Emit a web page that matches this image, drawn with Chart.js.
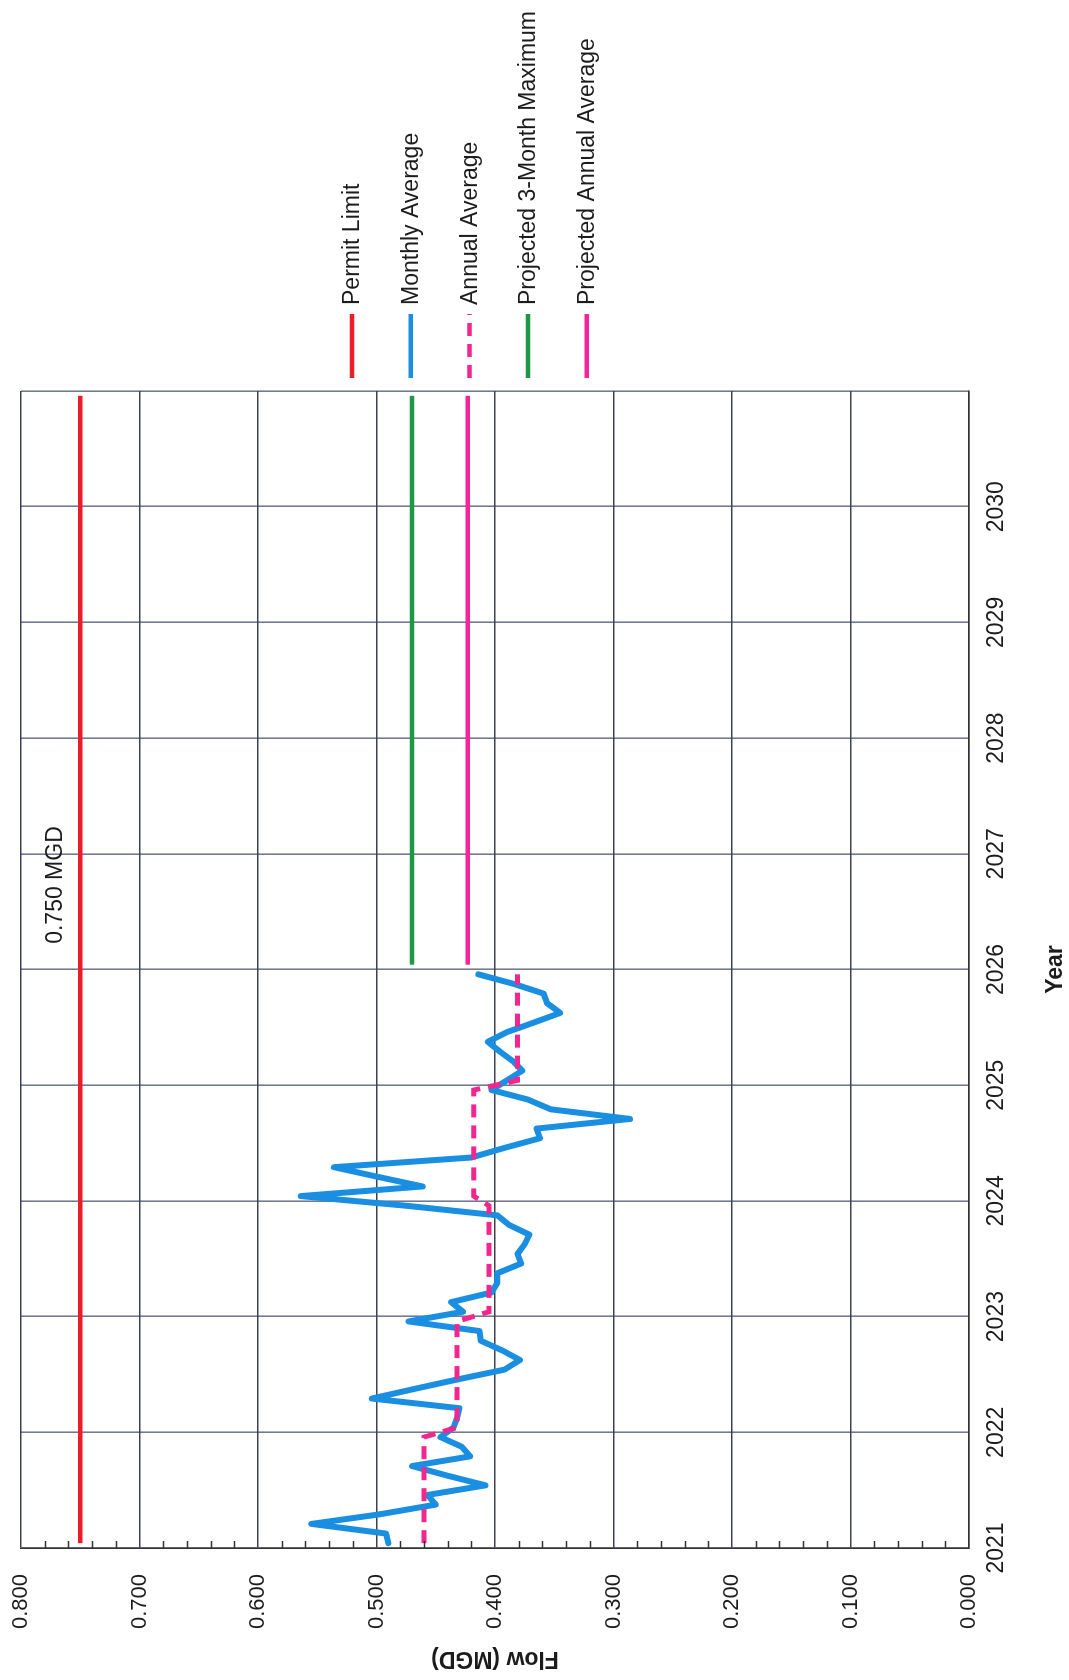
<!DOCTYPE html>
<html lang="en">
<head>
<meta charset="utf-8">
<title>Flow (MGD)</title>
<script src="https://cdn.jsdelivr.net/npm/chart.js@4.4.0/dist/chart.umd.min.js"></script>
<style>
  html, body { margin: 0; padding: 0; background: #fff; overflow: hidden; width: 1069px; height: 1680px; }
  /* the chart is drawn landscape and turned a quarter turn, like the scanned page */
  #folha { position: absolute; left: 0; top: 0; width: 1680px; height: 1069px;
           transform-origin: 0 0; transform: translate(0, 1680px) rotate(-90deg); }
</style>
</head>
<body>
<div id="folha"><canvas id="grafico" width="1680" height="1069"></canvas></div>
<script>
// dados
const years = [2021, 2022, 2023, 2024, 2025];
const monthly2021 = [0.490, 0.492, 0.555, 0.497, 0.450, 0.457, 0.408, 0.440, 0.470, 0.421, 0.428, 0.446];
const monthly2022 = [0.435, 0.432, 0.430, 0.504, 0.468, 0.431, 0.392, 0.379, 0.394, 0.412, 0.413, 0.473];
const monthly2023 = [0.427, 0.437, 0.403, 0.398, 0.398, 0.378, 0.381, 0.375, 0.371, 0.388, 0.398, 0.475];
const monthly2024 = [0.564, 0.461, 0.499, 0.536, 0.420, 0.392, 0.362, 0.365, 0.286, 0.353, 0.372, 0.403];
const monthly2025 = [0.390, 0.377, 0.385, 0.396, 0.406, 0.390, 0.367, 0.345, 0.356, 0.359, 0.384, 0.414];
const annualAverage = [0.460, 0.432, 0.405, 0.418, 0.381];

const permitLimit = 0.750;
const permitYears = [2021, 2030];
const projectedYears = [2026, 2030];
const projected3MonthMax = 0.470;
const projectedAnnualAverage = 0.423;

const yearGrid = [2021, 2022, 2023, 2024, 2025, 2026, 2027, 2028, 2029, 2030, 2031];
const yearLabels = ["2021", "2022", "2023", "2024", "2025", "2026", "2027", "2028", "2029", "2030", ""];
const flowGrid = [0, 0.1, 0.2, 0.3, 0.4, 0.5, 0.6, 0.7, 0.8];
const flowLabels = ["0.000", "0.100", "0.200", "0.300", "0.400", "0.500", "0.600", "0.700", "0.800"];
const permitText = "0.750 MGD";

// mês m (0-11) do ano -> posição no eixo de anos (meio do mês)
const mes = (ano, m) => ano + (m + 0.5) / 12;

const monthlyAverage = [monthly2021, monthly2022, monthly2023, monthly2024, monthly2025];
const monthlyPoints = years.flatMap((ano, i) => monthlyAverage[i].map((v, m) => ({ x: mes(ano, m), y: v })));
const annualPoints = years.flatMap((ano, i) => [
    { x: mes(ano, 0), y: annualAverage[i] },
    { x: mes(ano, 11), y: annualAverage[i] }
]);
const flat = (anos, v) => [{ x: mes(anos[0], 0), y: v }, { x: mes(anos[1], 11), y: v }];

const FONTE = "'Liberation Sans', Arial, sans-serif";
const TEXTO = "#1c1c1c";

// pequenos traços internos no eixo de vazão (0.02)
const tracosPlugin = {
    id: "tracos",
    afterDatasetsDraw(chart) {
        const { ctx, chartArea, scales: { y } } = chart;
        ctx.save();
        ctx.strokeStyle = "#333";
        ctx.lineWidth = 1.5;
        for (let k = 1; k < 40; k++) {
            if (k % 5 === 0) continue;
            const py = Math.round(y.getPixelForValue(k * 0.02)) + 0.5;
            ctx.beginPath();
            ctx.moveTo(chartArea.left, py);
            ctx.lineTo(chartArea.left + 7, py);
            ctx.stroke();
        }
        ctx.restore();
    }
};

// rótulo do limite e legenda à direita
const legendaPlugin = {
    id: "legenda",
    afterDraw(chart) {
        const { ctx, chartArea, scales: { x, y } } = chart;
        ctx.save();
        ctx.font = `23px ${FONTE}`;
        ctx.fillStyle = TEXTO;
        ctx.textAlign = "center";
        ctx.textBaseline = "middle";
        ctx.fillText(permitText, x.getPixelForValue(2026.73), y.getPixelForValue(0.7705));

        chart.data.datasets.forEach((ds, i) => {
            const py = 352 + i * 58.7;
            const x0 = chartArea.right + 13;
            ctx.beginPath();
            ctx.setLineDash(ds.borderDash || []);
            ctx.lineCap = "butt";
            ctx.strokeStyle = ds.borderColor;
            ctx.lineWidth = 4.5;
            ctx.moveTo(x0, py);
            ctx.lineTo(x0 + 64, py);
            ctx.stroke();
            ctx.setLineDash([]);
            ctx.textAlign = "left";
            ctx.fillText(ds.label, x0 + 73, py + 1);
        });
        ctx.restore();
    }
};

const linha = (label, data, cor, extra) => Object.assign({
    label, data,
    borderColor: cor,
    backgroundColor: cor,
    borderWidth: 4.5,
    pointRadius: 0,
    tension: 0,
    fill: false,
    order: 2
}, extra);

const grafico = new Chart(document.getElementById("grafico"), {
    type: "line",
    data: {
        datasets: [
            linha("Permit Limit", flat(permitYears, permitLimit), "#ec1c2a", {}),
            linha("Monthly Average", monthlyPoints, "#1a8fe2", { borderWidth: 6, borderJoinStyle: "round", borderCapStyle: "round", order: 1 }),
            linha("Annual Average", annualPoints, "#f2268f", { borderWidth: 5, borderDash: [13, 8], order: 0 }),
            linha("Projected 3-Month Maximum", flat(projectedYears, projected3MonthMax), "#1f9845", {}),
            linha("Projected Annual Average", flat(projectedYears, projectedAnnualAverage), "#f8239a", {})
        ]
    },
    options: {
        responsive: false,
        devicePixelRatio: 1,
        animation: false,
        layout: { padding: { left: 0, right: 391, top: 21, bottom: 0 } },
        plugins: { legend: { display: false }, tooltip: { enabled: false } },
        scales: {
            x: {
                type: "linear",
                min: 2021,
                max: 2031,
                afterBuildTicks: s => { s.ticks = yearGrid.map(v => ({ value: v })); },
                afterFit: s => { s.height = 100; s.paddingLeft = 0; s.paddingRight = 0; },
                ticks: {
                    padding: 14,
                    color: TEXTO,
                    font: { family: FONTE, size: 23 },
                    maxRotation: 0,
                    autoSkip: false,
                    callback: (v, i) => yearLabels[i]
                },
                grid: { color: "#727a92", lineWidth: 1.6, drawTicks: false },
                border: { color: "#333", width: 1.6 },
                title: { display: true, text: "Year", color: TEXTO, padding: 0, font: { family: FONTE, size: 23, weight: "bold" } }
            },
            y: {
                type: "linear",
                min: 0,
                max: 0.8,
                afterBuildTicks: s => { s.ticks = flowGrid.map(v => ({ value: v })); },
                afterFit: s => { s.width = 132; s.paddingTop = 0; s.paddingBottom = 0; },
                ticks: {
                    padding: 26,
                    color: TEXTO,
                    font: { family: FONTE, size: 22 },
                    autoSkip: false,
                    callback: (v, i) => flowLabels[i]
                },
                grid: { color: "#3e4152", lineWidth: 1.6, drawTicks: false },
                border: { color: "#333", width: 1.6 },
                title: { display: true, text: "Flow (MGD)", color: TEXTO, padding: { top: 8, bottom: 0 }, font: { family: FONTE, size: 23, weight: "bold" } }
            }
        }
    },
    plugins: [tracosPlugin, legendaPlugin]
});
</script>
</body>
</html>
